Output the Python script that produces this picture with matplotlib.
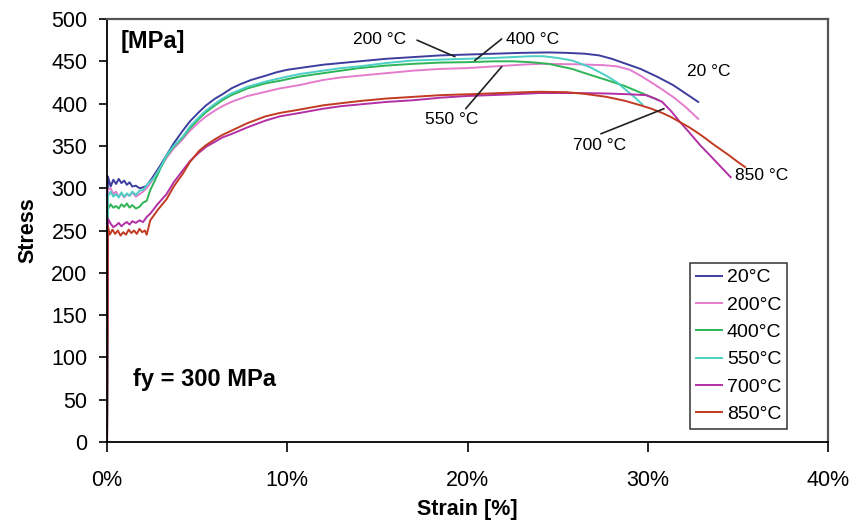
import matplotlib
matplotlib.use("Agg")
import matplotlib.pyplot as plt
from matplotlib.ticker import FuncFormatter

plt.rcParams['font.family'] = ['Liberation Sans', 'DejaVu Sans']

# Stress-strain curves (strain in %, stress in MPa)
strain_20 = [0, 0.05, 0.2, 0.35, 0.5, 0.65, 0.8, 0.95, 1.1, 1.25, 1.4, 1.6, 1.8, 2.0, 2.2, 2.5,
             2.9, 3.3, 3.7, 4.2, 4.6, 5.1, 5.5, 6.0, 6.4, 6.9, 7.4, 8.0, 8.8, 9.4, 10.0, 11, 12,
             13, 14, 15.5, 17, 18.5, 20, 21.5, 23, 24.5, 25.5, 26.5, 27.3, 28.0, 28.8, 29.6,
             30.5, 31.4, 32.1, 32.8]
stress_20 = [0, 314, 302, 310, 305, 311, 306, 309, 304, 307, 302, 303, 300, 301, 303, 312,
             325, 339, 353, 368, 379, 390, 398, 406, 411, 418, 423, 428, 433, 437, 440, 443, 446,
             448, 450, 453, 455, 457, 458, 459, 460, 460.5, 460, 459, 457, 453, 447, 441,
             432, 422, 412, 402]

strain_200 = [0, 0.05, 0.2, 0.35, 0.5, 0.65, 0.8, 0.95, 1.1, 1.25, 1.4, 1.6, 1.8, 2.0, 2.2, 2.5,
              2.9, 3.3, 3.7, 4.2, 4.6, 5.1, 5.5, 6.0, 6.4, 6.9, 7.8, 8.8, 9.6, 10.7, 12, 13,
              14, 15.5, 17, 18.5, 20, 21.5, 23, 24, 26, 27.5, 28.3, 29, 29.6, 30.5, 31.4, 32.1,
              32.8]
stress_200 = [0, 298, 300, 293, 296, 290, 294, 289, 293, 291, 295, 290, 293, 296, 300, 309,
              322, 336, 347, 358, 368, 378, 385, 392, 397, 402, 409, 414, 418, 422, 428, 431,
              433, 436, 439, 441, 442, 444, 446, 447, 446.5, 445.5, 444, 440, 433, 421, 408, 396,
              382]

strain_400 = [0, 0.05, 0.2, 0.35, 0.5, 0.65, 0.8, 0.95, 1.1, 1.25, 1.4, 1.6, 1.8, 2.0, 2.2, 2.4,
              2.7, 3.0, 3.3, 3.7, 4.2, 4.6, 5.1, 5.5, 6.0, 6.4, 6.9, 7.8, 8.8, 9.6, 10.7, 12,
              13, 14, 15.5, 17, 18.5, 20, 21.5, 22.5, 23.5, 24.5, 25.8, 26.8, 27.7, 28.7, 29.6,
              30.6]
stress_400 = [0, 275, 281, 277, 279, 276, 281, 278, 282, 277, 280, 276, 278, 283, 285, 298,
              311, 325, 338, 349, 360, 371, 382, 390, 398, 404, 410, 418, 424, 427, 432, 436,
              439, 442, 445, 447, 448.5, 449, 450, 450, 449, 447, 441, 434, 428, 421, 413,
              404]

strain_550 = [0, 0.05, 0.2, 0.35, 0.5, 0.65, 0.8, 0.95, 1.1, 1.25, 1.4, 1.6, 1.8, 2.0, 2.3, 2.6,
              3.0, 3.3, 3.7, 4.2, 4.6, 5.1, 5.5, 6.0, 6.4, 6.9, 7.8, 8.8, 9.6, 10.7, 12, 13,
              14, 15.5, 17, 18.5, 20, 21.5, 22.5, 23.5, 24.2, 25.0, 25.8, 26.8, 27.7, 28.3,
              28.8, 29.3, 29.7]
stress_550 = [0, 290, 296, 290, 293, 289, 295, 290, 294, 291, 296, 292, 297, 298, 306, 312,
              326, 339, 350, 361, 373, 384, 392, 400, 406, 412, 420, 426, 430, 435, 439, 442,
              444, 448, 451, 452, 453, 454, 455, 456, 456, 454, 451, 443, 433, 425,
              416, 407, 399]

strain_700 = [0, 0.05, 0.2, 0.35, 0.5, 0.65, 0.8, 0.95, 1.1, 1.25, 1.4, 1.6, 1.8, 2.0, 2.2, 2.4,
              2.8, 3.3, 3.7, 4.2, 4.6, 5.1, 5.5, 6.0, 6.4, 6.9, 7.8, 8.8, 9.6, 10.7, 12, 13,
              14, 15.5, 17, 18.5, 20, 22.5, 24, 26, 27.7, 29, 29.9, 30.4, 30.8, 31.3, 31.8,
              32.3, 32.9, 33.4, 33.8, 34.2, 34.6]
stress_700 = [0, 264, 258, 254, 256, 259, 255, 258, 260, 257, 261, 259, 262, 260, 266, 270,
              281, 293, 307, 321, 332, 342, 349, 355, 360, 364, 372, 380, 385, 389, 394, 397,
              399, 402, 404, 407, 409, 411, 412.5, 412.5, 412, 411, 410, 406, 402, 391, 378,
              366, 351, 340, 331, 322, 313]

strain_850 = [0, 0.05, 0.15, 0.3, 0.45, 0.6, 0.75, 0.9, 1.05, 1.2, 1.35, 1.5, 1.65, 1.8, 1.95, 2.1,
              2.2, 2.4, 2.8, 3.3, 3.7, 4.2, 4.6, 5.1, 5.5, 6.0, 6.4, 6.9, 7.8, 8.8, 9.6, 10.7,
              12, 13, 14, 15.5, 17, 18.5, 20, 22.5, 24, 25.5, 26.5, 27.7, 28.7, 29.6, 30.2,
              30.8, 31.3, 31.8, 32.3, 32.8, 33.2, 33.6, 34.1, 34.5, 35.0, 35.4]
stress_850 = [0, 255, 245, 251, 246, 250, 244, 248, 245, 251, 247, 250, 246, 252, 248, 250,
              245, 262, 274, 287, 302, 317, 331, 344, 351, 358, 363, 368, 377, 385, 389, 393,
              398, 400.5, 403, 406, 408, 410, 411, 413, 414, 413.5, 411.5, 408, 403.5, 398, 394,
              389, 384, 378, 372, 365, 359, 352.5, 345, 339, 331, 325]

series_labels = ['20°C', '200°C', '400°C', '550°C', '700°C', '850°C']
series_colors = ['#3d3d9e', '#e47ccd', '#2fb456', '#4ccfc4', '#b32fa6', '#c23a22']
series_strain = [strain_20, strain_200, strain_400, strain_550, strain_700, strain_850]
series_stress = [stress_20, stress_200, stress_400, stress_550, stress_700, stress_850]

x_ticks = [0, 10, 20, 30, 40]
y_ticks = list(range(0, 501, 50))

fig = plt.figure(figsize=(8.59, 5.31), dpi=100)
ax = fig.add_axes([0.1246, 0.1676, 0.8393, 0.7966])

for xs, ys, lab, col in zip(series_strain, series_stress, series_labels, series_colors):
    ax.plot(xs, ys, color=col, lw=1.4, label=lab, solid_joinstyle='round')

ax.set_xlim(0, 40)
ax.set_ylim(0, 500)
ax.set_xticks(x_ticks)
ax.set_yticks(y_ticks)
ax.xaxis.set_major_formatter(FuncFormatter(lambda v, p: f"{v:.0f}%"))
ax.tick_params(axis='x', direction='out', length=7, width=1.2, pad=13, labelsize=15.5)
ax.tick_params(axis='y', direction='out', length=6, width=1.2, pad=8, labelsize=15.5)

for side in ['left', 'bottom']:
    ax.spines[side].set_color('black')
    ax.spines[side].set_linewidth(1.3)
for side in ['top', 'right']:
    ax.spines[side].set_color('#555555')
    ax.spines[side].set_linewidth(1.6)

ax.set_xlabel('Strain [%]', fontsize=15.5, fontweight='bold', labelpad=6)
ax.set_ylabel('Stress', fontsize=15.5, fontweight='bold', labelpad=9)

ax.text(0.064, 0.946, '[MPa]', transform=ax.transAxes, fontsize=17, fontweight='bold',
        ha='center', va='center')
ax.text(0.036, 0.148, 'fy = 300 MPa', transform=ax.transAxes, fontsize=17, fontweight='bold',
        ha='left', va='center')

# Temperature call-outs: label position, then leader line (start, end)
callout_text = [
    ('200 °C', (15.1, 475.6)),
    ('400 °C', (23.6, 475.6)),
    ('550 °C', (19.1, 380.9)),
    ('700 °C', (27.3, 350.0)),
    ('20 °C', (33.4, 437.8)),
    ('850 °C', (36.3, 314.7)),
]
leader_lines = [
    ((17.2, 475.0), (19.3, 455.5)),
    ((21.9, 476.5), (20.4, 450.9)),
    ((21.9, 443.7), (19.9, 394.0)),
    ((27.4, 364.3), (30.9, 394.0)),
]
for txt, pos in callout_text:
    ax.text(pos[0], pos[1], txt, fontsize=12.5, ha='center', va='center')
for start, end in leader_lines:
    ax.annotate('', xy=end, xytext=start,
                arrowprops=dict(arrowstyle='-', color='#222222', lw=1.2, shrinkA=0, shrinkB=0))

leg = ax.legend(loc='upper left', bbox_to_anchor=(0.8086, 0.4232), borderaxespad=0,
                fontsize=14, handlelength=1.35, handletextpad=0.25, labelspacing=0.5,
                borderpad=0.3, fancybox=False, frameon=True, edgecolor='black')
leg.get_frame().set_linewidth(1.1)

fig.savefig('out.png', dpi=100)
